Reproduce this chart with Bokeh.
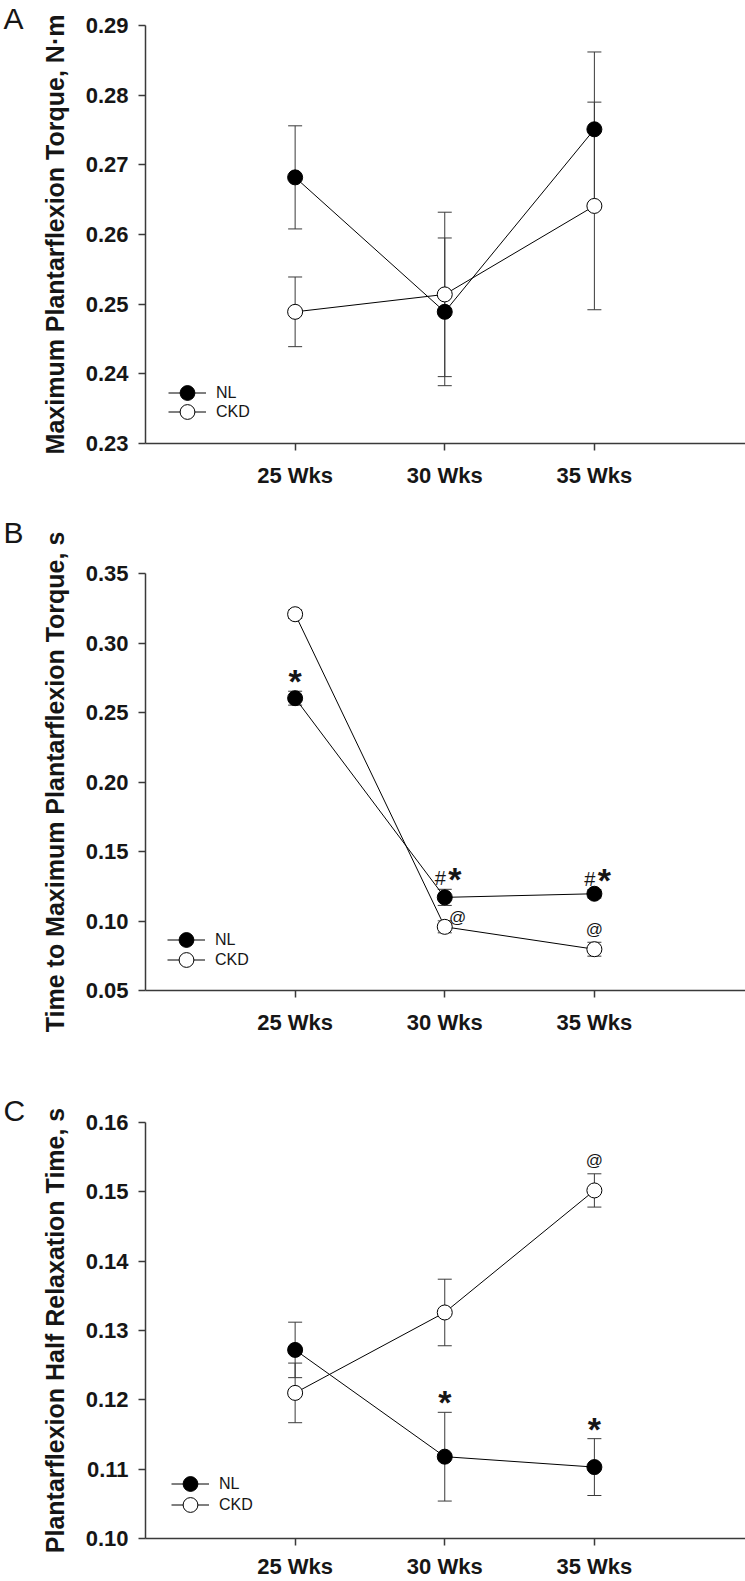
from bokeh.plotting import figure
from bokeh.models import (Range1d, FixedTicker, PrintfTickFormatter, Whisker,
                          ColumnDataSource, Legend, LegendItem, Label)
from bokeh.layouts import column
from bokeh.embed import file_html
from bokeh.resources import INLINE
from bokeh.core.properties import value

# ---------------- data ----------------
weeks = ["25 Wks", "30 Wks", "35 Wks"]
week_pos = [1, 2, 3]

# Panel A: Maximum plantarflexion torque (N·m)
a_nl = [0.2682, 0.2489, 0.2751]
a_nl_err = [0.0074, 0.0106, 0.0111]
a_ckd = [0.2489, 0.2514, 0.2641]
a_ckd_err = [0.0050, 0.0118, 0.0149]
a_ticks = [0.23, 0.24, 0.25, 0.26, 0.27, 0.28, 0.29]

# Panel B: Time to maximum plantarflexion torque (s)
b_nl = [0.2603, 0.1170, 0.1196]
b_nl_err = [0.0050, 0.0058, 0.0030]
b_ckd = [0.3207, 0.0958, 0.0797]
b_ckd_err = [0.0030, 0.0043, 0.0050]
b_ticks = [0.05, 0.10, 0.15, 0.20, 0.25, 0.30, 0.35]
b_marks = [("NL", 0, "*"), ("NL", 1, "#*"), ("NL", 2, "#*"),
           ("CKD", 1, "@"), ("CKD", 2, "@")]

# Panel C: Plantarflexion half relaxation time (s)
c_nl = [0.1272, 0.1118, 0.1103]
c_nl_err = [0.0040, 0.0064, 0.0041]
c_ckd = [0.1210, 0.1326, 0.1502]
c_ckd_err = [0.0043, 0.0048, 0.0024]
c_ticks = [0.10, 0.11, 0.12, 0.13, 0.14, 0.15, 0.16]
c_marks = [("NL", 1, "*"), ("NL", 2, "*"), ("CKD", 2, "@")]

series_names = ["NL", "CKD"]

# ---------------- style ----------------
FONT = "Liberation Sans"
INK = "#161616"
AXIS = "#3a3a3a"
X_END = 4.01
SPECIAL_OFFSETS = {("B", "CKD", 1): (13, -5)}   # "@" set beside the point


def panel(letter, ylabel, yr, yticks, nl, nl_err, ckd, ckd_err, marks,
          fig_h, b_top, b_bottom, xstand, leg_x, leg_nl, leg_ckd, letter_y):
    p = figure(width=745, height=fig_h, x_range=Range1d(0, X_END),
               y_range=Range1d(yr[0], yr[1]), output_backend="svg",
               toolbar_location=None, min_border_left=145, min_border_right=0,
               min_border_top=b_top, min_border_bottom=b_bottom)
    p.outline_line_color = None
    p.grid.visible = False
    p.background_fill_color = "white"
    p.border_fill_color = "white"

    p.xaxis.ticker = FixedTicker(ticks=week_pos)
    p.xaxis.major_label_overrides = {k: v for k, v in zip(week_pos, weeks)}
    p.yaxis.ticker = FixedTicker(ticks=yticks)
    p.yaxis.formatter = PrintfTickFormatter(format="%.2f")
    for ax in (p.xaxis[0], p.yaxis[0]):
        ax.axis_line_color = AXIS
        ax.axis_line_width = 1.5
        ax.major_tick_line_color = AXIS
        ax.major_tick_line_width = 1.5
        ax.major_tick_out = 7
        ax.major_tick_in = 0
        ax.minor_tick_line_color = None
        ax.major_label_text_font = FONT
        ax.major_label_text_font_style = "bold"
        ax.major_label_text_font_size = "22px"
        ax.major_label_text_color = INK
    p.xaxis.major_label_standoff = xstand
    p.yaxis.major_label_standoff = 10
    p.yaxis.axis_label = ylabel
    p.yaxis.axis_label_text_font = FONT
    p.yaxis.axis_label_text_font_style = "bold"
    p.yaxis.axis_label_text_font_size = "25px"
    p.yaxis.axis_label_text_color = INK
    p.yaxis.axis_label_standoff = 14

    vals = {"NL": (nl, nl_err), "CKD": (ckd, ckd_err)}

    # error bars
    for name in series_names:
        v, e = vals[name]
        src = ColumnDataSource(dict(base=week_pos,
                                    upper=[a + b for a, b in zip(v, e)],
                                    lower=[a - b for a, b in zip(v, e)]))
        w = Whisker(source=src, base="base", upper="upper", lower="lower",
                    level="underlay", line_color=AXIS, line_width=1)
        for h in (w.upper_head, w.lower_head):
            h.size = 14
            h.line_color = AXIS
            h.line_width = 1
        p.add_layout(w)

    nl_line = p.line(week_pos, nl, line_color="black", line_width=1)
    ckd_line = p.line(week_pos, ckd, line_color="black", line_width=1)
    nl_pts = p.scatter(week_pos, nl, marker="circle", size=15,
                       fill_color="black", line_color="black", line_width=1)
    ckd_pts = p.scatter(week_pos, ckd, marker="circle", size=15,
                        fill_color="white", line_color="black", line_width=1)

    for name, rs, vy in (("NL", [nl_line, nl_pts], leg_nl),
                         ("CKD", [ckd_line, ckd_pts], leg_ckd)):
        lg = Legend(items=[LegendItem(label=name, renderers=rs)],
                    location=(leg_x, vy), orientation="vertical",
                    padding=0, margin=0, spacing=0, glyph_width=38,
                    glyph_height=37, label_height=20, label_standoff=10,
                    border_line_color=None, background_fill_alpha=0,
                    label_text_font=FONT, label_text_font_size="16px",
                    label_text_color=INK)
        p.add_layout(lg)

    # significance marks
    for name, idx, sym in marks:
        v, e = vals[name]
        x = week_pos[idx]
        top = v[idx] + e[idx]
        dx, dy = SPECIAL_OFFSETS.get((letter, name, idx), (0, -15))
        if sym in ("*", "#*"):
            p.text([x], [top], text=["*"], text_font=value(FONT),
                   text_font_style="bold", text_font_size="34px",
                   text_align="center", text_baseline="alphabetic",
                   x_offset=10 if sym == "#*" else dx,
                   y_offset=dy + 5, text_color=INK)
        if sym == "#*":
            p.text([x], [top], text=["#"], text_font=value(FONT),
                   text_font_style="normal", text_font_size="20px",
                   text_align="right", text_baseline="alphabetic",
                   x_offset=1, y_offset=dy + 4, text_color=INK)
        if sym == "@":
            p.text([x], [top], text=["@"], text_font=value(FONT),
                   text_font_style="normal", text_font_size="17px",
                   text_align="center", text_baseline="alphabetic",
                   x_offset=dx, y_offset=dy + 2, text_color=INK)

    # panel letter, placed in the left side panel so that it is not clipped
    p.add_layout(Label(x=(3 - 145) / 149.5, y=letter_y, x_units="data",
                       y_units="screen", text=letter, text_font=FONT,
                       text_font_size="30px", text_baseline="alphabetic",
                       text_align="left", text_color=INK), "left")
    return p


pa = panel("A", "Maximum Plantarflexion Torque, N\u00b7m", (0.23, 0.29), a_ticks,
           a_nl, a_nl_err, a_ckd, a_ckd_err, [],
           508, 25, 65, 12, 23, 32, 13, 425)
pb = panel("B", "Time to Maximum Plantarflexion Torque, s", (0.05, 0.35), b_ticks,
           b_nl, b_nl_err, b_ckd, b_ckd_err, b_marks,
           567, 65, 85, 12, 22, 32, 12, 458)
pc = panel("C", "Plantarflexion Half Relaxation Time, s", (0.10, 0.16), c_ticks,
           c_nl, c_nl_err, c_ckd, c_ckd_err, c_marks,
           506, 47, 41, 8, 26, 36, 15, 428)

layout = column(pa, pb, pc, spacing=0)
open("out.html", "w").write(file_html(layout, INLINE))
